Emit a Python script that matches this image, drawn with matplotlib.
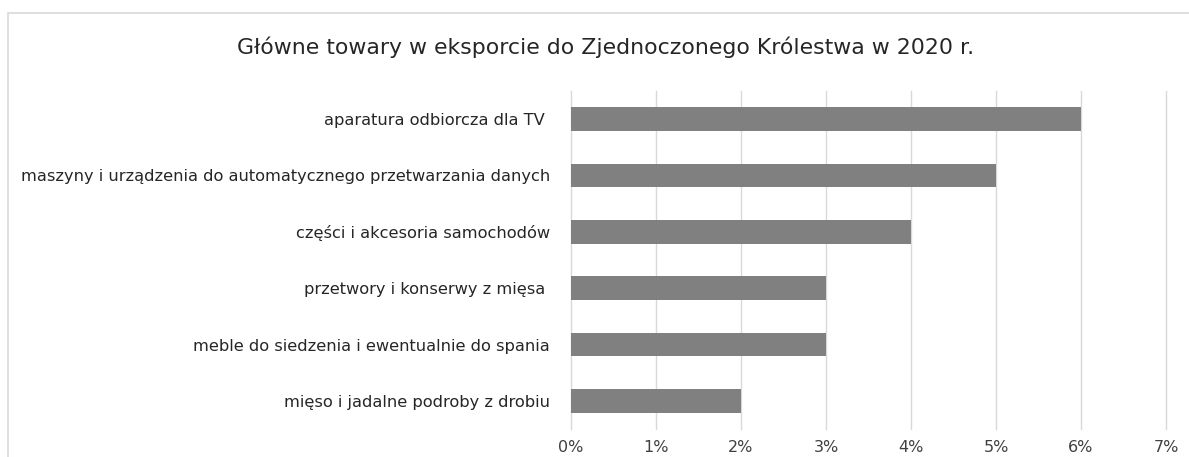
import matplotlib.pyplot as plt
from matplotlib.patches import Rectangle

categories = [
    "aparatura odbiorcza dla TV ",
    "maszyny i urządzenia do automatycznego przetwarzania danych",
    "części i akcesoria samochodów",
    "przetwory i konserwy z mięsa ",
    "meble do siedzenia i ewentualnie do spania",
    "mięso i jadalne podroby z drobiu",
]
values = [6, 5, 4, 3, 3, 2]
ticks = [0, 1, 2, 3, 4, 5, 6, 7]
tick_labels = [f"{t}%" for t in ticks]

plt.rcParams['font.family'] = ['DejaVu Sans']

W, H = 1189, 457
fig = plt.figure(figsize=(W / 100, H / 100), dpi=100)

# chart border (Excel style, runs off the right and bottom)
fig.patches.append(Rectangle((8 / W, -0.1), 1.2, (H - 13) / H + 0.1,
                             transform=fig.transFigure, fill=False,
                             edgecolor='#d9d9d9', linewidth=1.2))

ax = fig.add_axes([571 / W, 1 - 429 / H, (1166 - 571) / W, (429 - 91) / H])

y = list(range(len(categories)))
ax.barh(y, values, height=0.42, color='#808080', zorder=3)
ax.set_ylim(len(categories) - 0.5, -0.5)
ax.set_xlim(0, 7)
ax.set_xticks(ticks)
ax.set_xticklabels(tick_labels, fontsize=11.5, color='#404040')
ax.set_yticks(y)
ax.set_yticklabels(categories, fontsize=11.7, color='#262626')
ax.tick_params(axis='both', length=0)
ax.tick_params(axis='y', pad=15)
ax.tick_params(axis='x', pad=8)
ax.grid(axis='x', color='#d9d9d9', linewidth=1, zorder=0)
for gl in ax.get_xgridlines():
    gl.set_clip_on(False)
for s in ax.spines.values():
    s.set_visible(False)

fig.text(606 / W, 1 - 47 / H, "Główne towary w eksporcie do Zjednoczonego Królestwa w 2020 r.",
         ha='center', va='center', fontsize=15.8, color='#262626')

fig.savefig('out.png', dpi=100)
